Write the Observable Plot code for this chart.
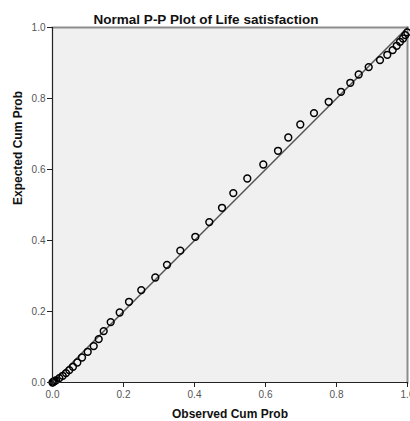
<!DOCTYPE html>
<html>
<head>
<meta charset="utf-8">
<script src="https://cdn.jsdelivr.net/npm/d3@7"></script>
<script src="https://cdn.jsdelivr.net/npm/@observablehq/plot@0.6"></script>
<style>
  html, body { margin: 0; padding: 0; background: #fff; }
  #chart svg { display: block; font-family: "Liberation Sans", Arial, sans-serif; }
</style>
</head>
<body>
<div id="chart"></div>
<script>
const title = "Normal P-P Plot of Life satisfaction";
const xLabel = "Observed Cum Prob";
const yLabel = "Expected Cum Prob";
const tickValues = [0, 0.2, 0.4, 0.6, 0.8, 1.0];

const observed = [0, 0.0015, 0.0034, 0.006, 0.0099, 0.0192, 0.0287, 0.038, 0.0473, 0.0577,
  0.0699, 0.0831, 0.0992, 0.1161, 0.1301, 0.1442, 0.1639, 0.1893, 0.2155, 0.2501,
  0.2896, 0.3225, 0.36, 0.4023, 0.4417, 0.4775, 0.5093, 0.5487, 0.5938, 0.6352,
  0.6642, 0.698, 0.7366, 0.778, 0.8127, 0.8389, 0.8625, 0.8907, 0.9225, 0.9431,
  0.9583, 0.9696, 0.9789, 0.9873, 0.9938, 0.9994];
const expected = [0, 0.0012, 0.0028, 0.0045, 0.0062, 0.0124, 0.0189, 0.0265, 0.0349, 0.0442,
  0.0563, 0.0704, 0.0865, 0.1025, 0.1223, 0.1448, 0.1701, 0.1972, 0.2273, 0.2603,
  0.2958, 0.3315, 0.3713, 0.4104, 0.4518, 0.4921, 0.5335, 0.5746, 0.6141, 0.6527,
  0.6901, 0.7268, 0.7589, 0.7907, 0.8189, 0.8442, 0.8676, 0.8885, 0.9082, 0.9231,
  0.9363, 0.9485, 0.9597, 0.969, 0.9786, 0.986];
const refLine = [0, 1];

const points = observed.map((o, i) => ({observed: o, expected: expected[i]}));

const chart = Plot.plot({
  width: 410,
  height: 421,
  marginTop: 27,
  marginBottom: 39,
  marginLeft: 52,
  marginRight: 3,
  style: {fontFamily: "'Liberation Sans', Arial, sans-serif", fontSize: "10px", background: "#fff"},
  x: {domain: [0, 1]},
  y: {domain: [0, 1]},
  marks: [
    Plot.frame({fill: "#f0f0f0", stroke: "none"}),
    Plot.frame({anchor: "top", stroke: "#8c8c8c", strokeWidth: 2}),
    Plot.frame({anchor: "right", stroke: "#8c8c8c", strokeWidth: 2}),
    Plot.line(refLine, {x: d => d, y: d => d, stroke: "#555", strokeWidth: 1.5}),
    Plot.dot(points, {x: "observed", y: "expected", r: 3.4, stroke: "#000", strokeWidth: 1.5, fill: "none"}),
    Plot.axisX({ticks: tickValues, tickFormat: d3.format(".1f"), tickSize: 5, tickPadding: 3, stroke: "#222", fill: "#555", fontSize: 10, label: null}),
    Plot.axisY({ticks: tickValues, tickFormat: d3.format(".1f"), tickSize: 5, tickPadding: 2, stroke: "#222", fill: "#555", fontSize: 10, label: null}),
    Plot.ruleX([0], {stroke: "#222", strokeWidth: 1.2}),
    Plot.ruleY([0], {stroke: "#222", strokeWidth: 1.2}),
    Plot.text([xLabel], {frameAnchor: "bottom", lineAnchor: "bottom", dy: 35, text: d => d, fontWeight: "bold", fontSize: 12, fill: "#111"}),
    Plot.text([yLabel], {frameAnchor: "left", dx: -34, rotate: -90, text: d => d, fontWeight: "bold", fontSize: 12, fill: "#111"}),
    Plot.text([title], {frameAnchor: "top", lineAnchor: "bottom", dx: -24, dy: -4, text: d => d, fontWeight: "bold", fontSize: 13.5, fill: "#111"})
  ]
});
document.getElementById("chart").appendChild(chart);
</script>
</body>
</html>
